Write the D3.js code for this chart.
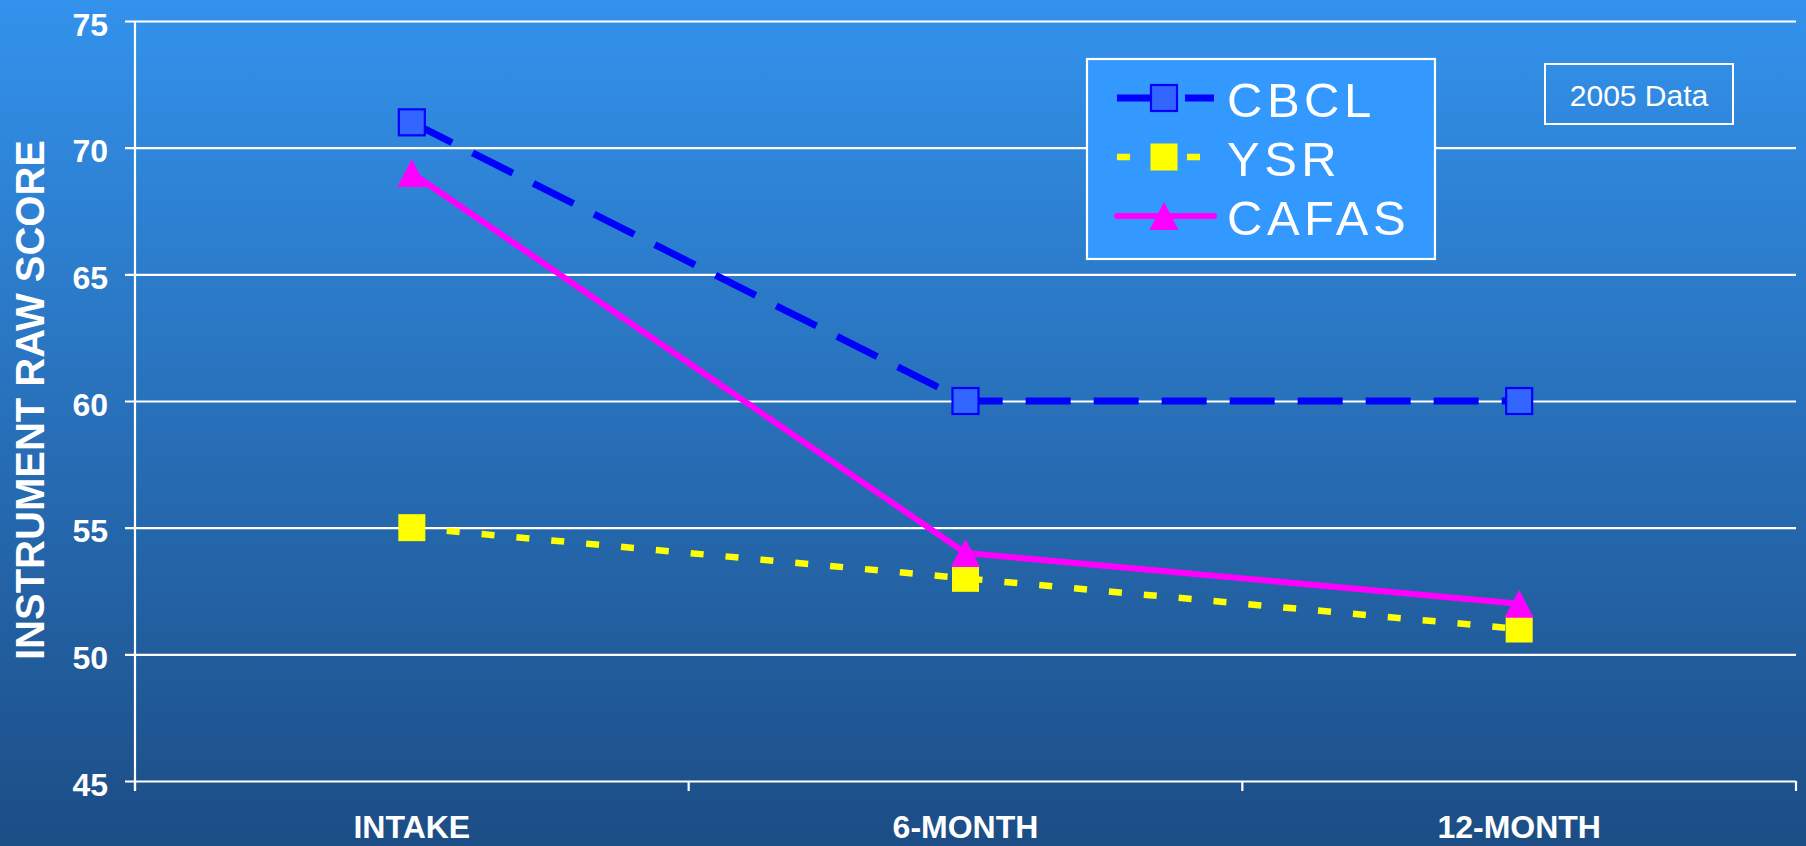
<!DOCTYPE html>
<html><head><meta charset="utf-8">
<script src="https://cdn.jsdelivr.net/npm/d3@7"></script>
<style>html,body{margin:0;padding:0;overflow:hidden;background:#2a6fc0}</style>
</head><body>
<svg id="chart" width="1806" height="846"></svg>
<script>
const categories = ["INTAKE", "6-MONTH", "12-MONTH"];
const cbcl  = [71, 60, 60];
const ysr   = [55, 53, 51];
const cafas = [69, 54, 52];
const yTicks = [45, 50, 55, 60, 65, 70, 75];
const seriesNames = ["CBCL", "YSR", "CAFAS"];
const yTitle = "INSTRUMENT RAW SCORE";
const note = "2005 Data";

(function () {
const svg = d3.select("#chart");
const W = 1806, H = 846;
const pL = 135, pR = 1796, pT = 21, pB = 781;

const defs = svg.append("defs");
const grad = defs.append("linearGradient").attr("id", "bg").attr("x1", 0).attr("y1", 0).attr("x2", 0).attr("y2", 1);
grad.append("stop").attr("offset", "0%").attr("stop-color", "#3392ec");
grad.append("stop").attr("offset", "100%").attr("stop-color", "#1c4d85");
svg.append("rect").attr("width", W).attr("height", H).attr("fill", "url(#bg)");

const x = d3.scaleBand().domain(categories).range([pL, pR]).paddingInner(0).paddingOuter(0);
const cx = c => x(c) + x.bandwidth() / 2;
const y = d3.scaleLinear().domain([45, 75]).range([pB, pT]);

const yAxis = d3.axisLeft(y).tickValues(yTicks).tickSize(-(pR - pL)).tickPadding(0).tickFormat(d3.format("d"));
const gy = svg.append("g").attr("transform", `translate(${pL},0)`).call(yAxis);
gy.select(".domain").remove();
gy.selectAll(".tick line").attr("stroke", "#fff").attr("stroke-width", 2.2).attr("x1", -10);
gy.selectAll(".tick text").remove();
gy.selectAll(".tick").append("text")
  .attr("x", -27).attr("y", 14)
  .attr("text-anchor", "end")
  .attr("fill", "#fff")
  .style("font", "bold 32px 'Liberation Sans', Arial, sans-serif")
  .text(d => d);
svg.append("line").attr("x1", pL).attr("x2", pL).attr("y1", pT).attr("y2", pB + 10)
  .attr("stroke", "#fff").attr("stroke-width", 2.2);

const xb = categories.map(c => x(c)).concat([pR]);
svg.append("g").selectAll("line").data(xb).join("line")
  .attr("x1", d => d).attr("x2", d => d).attr("y1", pB).attr("y2", pB + 10)
  .attr("stroke", "#fff").attr("stroke-width", 2.2);
svg.append("g").selectAll("text").data(categories).join("text")
  .attr("x", d => cx(d)).attr("y", 838)
  .attr("text-anchor", "middle").attr("fill", "#fff")
  .style("font", "bold 32px 'Liberation Sans', Arial, sans-serif")
  .text(d => d);

svg.append("text")
  .attr("transform", `translate(44,400) rotate(-90)`)
  .attr("text-anchor", "middle").attr("fill", "#fff")
  .style("font", "bold 40px 'Liberation Sans', Arial, sans-serif")
  .text(yTitle);

const line = d3.line().x((d, i) => cx(categories[i])).y(d => y(d));
const styles = [
  {data: cbcl, stroke: "#0000ff", width: 7, dash: "45,23", cap: "butt"},
  {data: ysr, stroke: "#ffff00", width: 6.5, dash: "13,22", cap: "butt"},
  {data: cafas, stroke: "#ff00ff", width: 6, dash: null, cap: "round"}
];
styles.forEach(s => {
  svg.append("path").datum(s.data).attr("d", line)
    .attr("fill", "none").attr("stroke", s.stroke).attr("stroke-width", s.width)
    .attr("stroke-dasharray", s.dash).attr("stroke-linecap", s.cap).attr("stroke-linejoin", "round");
});

function squareCBCL(g, px, py) {
  g.append("rect").attr("x", px - 13).attr("y", py - 13).attr("width", 26).attr("height", 26)
    .attr("fill", "#3366ff").attr("stroke", "#0000ff").attr("stroke-width", 2.2);
}
function squareYSR(g, px, py) {
  g.append("rect").attr("x", px - 13.5).attr("y", py - 13.5).attr("width", 27).attr("height", 27)
    .attr("fill", "#ffff00");
}
function tri(g, px, py) {
  const hw = 14.5, hh = 14;
  g.append("path").attr("d", `M${px},${py - hh} L${px + hw},${py + hh} L${px - hw},${py + hh} Z`)
    .attr("fill", "#ff00ff");
}
const mk = svg.append("g");
cbcl.forEach((v, i) => squareCBCL(mk, cx(categories[i]), y(v)));
ysr.forEach((v, i) => squareYSR(mk, cx(categories[i]), y(v)));
cafas.forEach((v, i) => tri(mk, cx(categories[i]), y(v)));

const lg = svg.append("g");
lg.append("rect").attr("x", 1087).attr("y", 59).attr("width", 348).attr("height", 200)
  .attr("fill", "#3399ff").attr("stroke", "#fff").attr("stroke-width", 2.2);
const rows = [98, 157, 216];
const drawers = [squareCBCL, squareYSR, tri];
seriesNames.forEach((n, i) => {
  const s = styles[i], ry = rows[i];
  lg.append("line").attr("x1", 1117).attr("x2", 1214).attr("y1", ry).attr("y2", ry)
    .attr("stroke", s.stroke).attr("stroke-width", s.width)
    .attr("stroke-dasharray", i === 0 ? "33,35,30" : s.dash).attr("stroke-linecap", s.cap);
  drawers[i](lg, 1164, ry);
  lg.append("text").attr("x", 1227).attr("y", ry + 19)
    .attr("fill", "#fff").style("font", "49px 'Liberation Sans', Arial, sans-serif")
    .style("letter-spacing", "4.5px")
    .text(n);
});

svg.append("rect").attr("x", 1545).attr("y", 64).attr("width", 188).attr("height", 60)
  .attr("fill", "none").attr("stroke", "#fff").attr("stroke-width", 2);
svg.append("text").attr("x", 1639).attr("y", 106).attr("text-anchor", "middle")
  .attr("fill", "#fff").style("font", "30px 'Liberation Sans', Arial, sans-serif")
  .text(note);
})();
</script>
</body></html>
